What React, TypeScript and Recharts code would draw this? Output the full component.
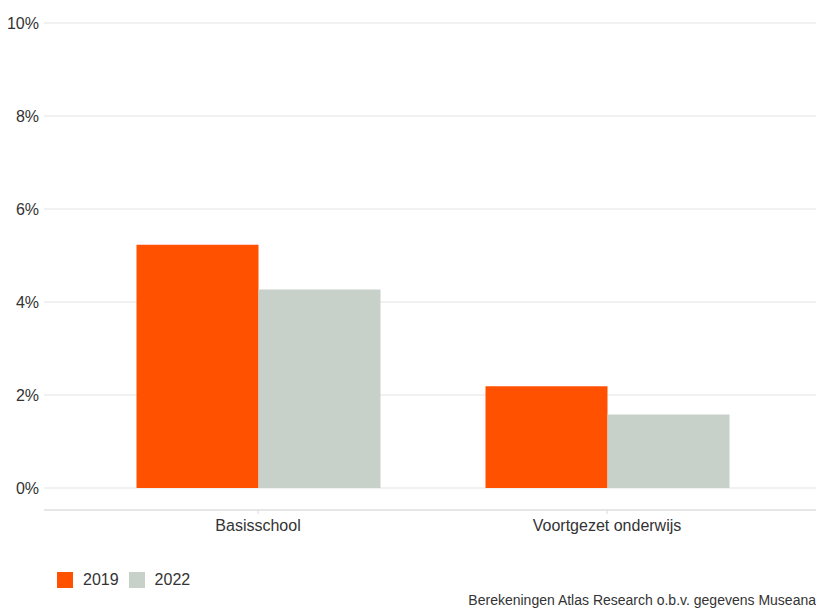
import React from 'react';
import { BarChart, Bar, XAxis, YAxis, CartesianGrid, Legend } from 'recharts';

const categories = ['Basisschool', 'Voortgezet onderwijs'];
const values2019 = [5.23, 2.19];
const values2022 = [4.27, 1.58];
const yTicks = [0, 2, 4, 6, 8, 10];
const sourceNote = 'Berekeningen Atlas Research o.b.v. gegevens Museana';

const FONT = '"Liberation Sans", Arial, Helvetica, sans-serif';
const TEXT = '#333333';

const data = categories.map((name, i) => ({
  name,
  '2019': values2019[i],
  '2022': values2022[i],
}));

// legend + source line share the strip under the x axis
const renderLegend = (props: any) => {
  const payload = props.payload || [];
  return (
    <div style={{ height: 68, position: 'relative', fontFamily: FONT, color: TEXT }}>
      <div style={{ position: 'absolute', top: 32, left: 57, display: 'flex', alignItems: 'center', height: 16, fontSize: 16 }}>
        {payload.map((entry: any) => (
          <div key={entry.value} style={{ display: 'flex', alignItems: 'center', marginRight: 10 }}>
            <span style={{ display: 'inline-block', width: 16, height: 16, background: entry.color, marginRight: 10 }} />
            <span>{entry.value}</span>
          </div>
        ))}
      </div>
      <div style={{ position: 'absolute', top: 52, right: 0, fontSize: 14, whiteSpace: 'nowrap', lineHeight: 'normal' }}>
        {sourceNote}
      </div>
    </div>
  );
};

export default function App() {
  return (
    <div style={{ position: 'absolute', left: 0, top: 0, width: 816, height: 608, background: '#fff', overflow: 'hidden' }}>
      <BarChart
        width={816}
        height={608}
        data={data}
        margin={{ top: 23, right: 0, left: 0, bottom: 0 }}
        barGap={0}
      >
        <CartesianGrid vertical={false} stroke="#e3e3e3" strokeWidth={1.2} />
        <XAxis
          dataKey="name"
          height={30}
          padding={{ left: 39.5, right: 34.5 }}
          axisLine={{ stroke: '#dcdcdc' }}
          tickLine={{ stroke: '#dcdcdc' }}
          tickSize={4}
          tickMargin={6}
          tick={{ fill: TEXT, fontSize: 16, fontFamily: FONT }}
        />
        <YAxis
          width={44}
          domain={[-0.473, 10]}
          allowDataOverflow
          ticks={yTicks}
          tickFormatter={(v: number) => `${v}%`}
          axisLine={false}
          tickLine={false}
          tickSize={5}
          tickMargin={0}
          tick={{ fill: TEXT, fontSize: 16, fontFamily: FONT }}
        />
        <Legend verticalAlign="bottom" align="left" content={renderLegend} />
        <Bar dataKey="2019" fill="#ff5100" barSize={122} isAnimationActive={false} />
        <Bar dataKey="2022" fill="#c8d1c9" barSize={122} isAnimationActive={false} />
      </BarChart>
    </div>
  );
}
